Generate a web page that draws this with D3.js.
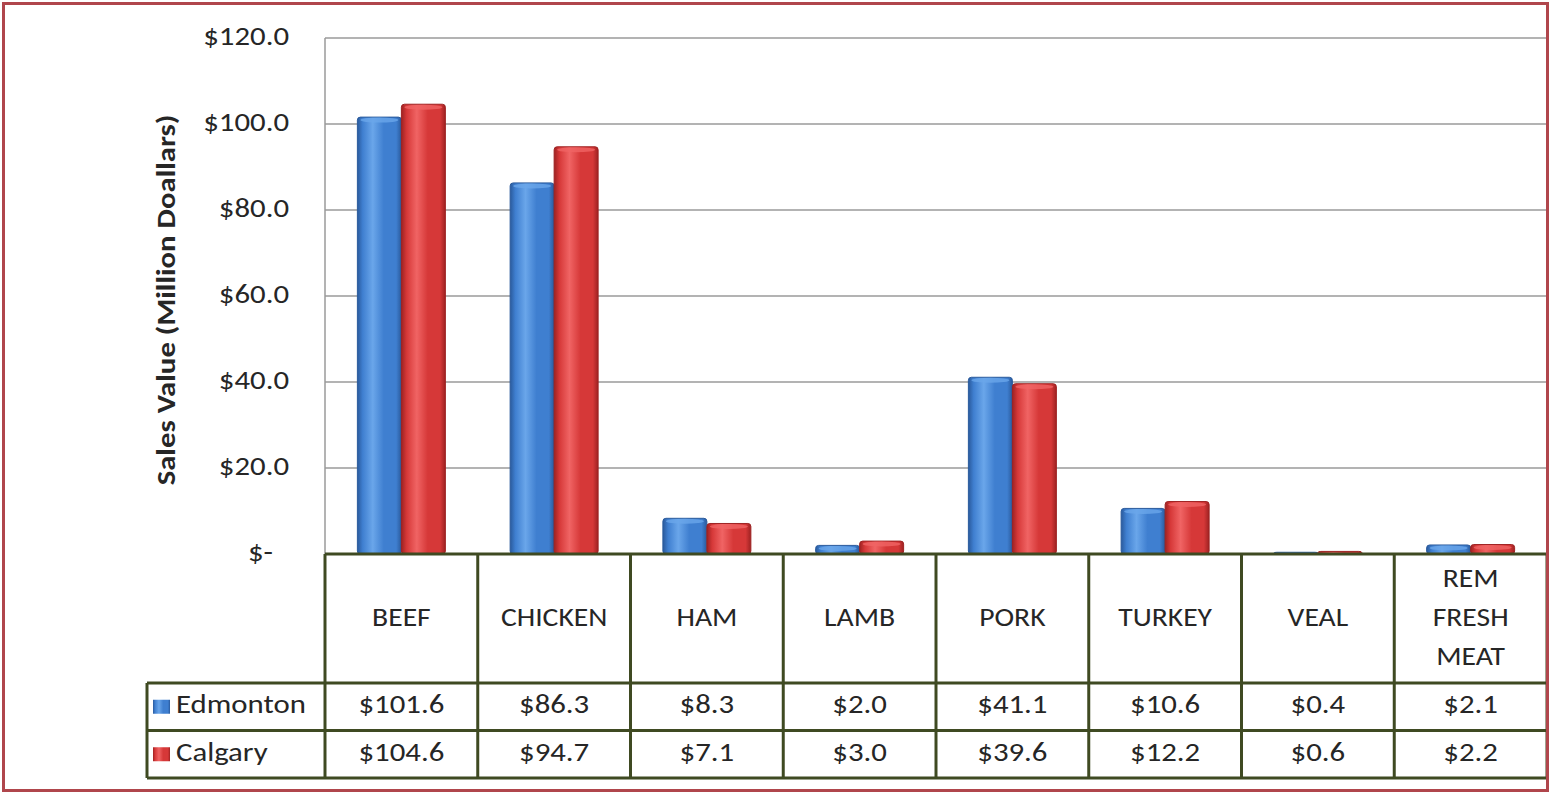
<!DOCTYPE html>
<html>
<head>
<meta charset="utf-8">
<script src="https://cdn.jsdelivr.net/npm/d3@7"></script>
<style>
  html, body { margin: 0; padding: 0; background: #fff; }
  svg { display: block; }
  text { font-family: Carlito, Calibri, Lato, 'Open Sans', sans-serif; fill: #262626; }
</style>
</head>
<body>
<div id="chart"></div>
<script>
const categories = ['BEEF', 'CHICKEN', 'HAM', 'LAMB', 'PORK', 'TURKEY', 'VEAL', 'REM FRESH MEAT'];
const series = ['Edmonton', 'Calgary'];
const edmonton = [101.6, 86.3, 8.3, 2.0, 41.1, 10.6, 0.4, 2.1];
const calgary = [104.6, 94.7, 7.1, 3.0, 39.6, 12.2, 0.6, 2.2];
const yTicks = [0, 20, 40, 60, 80, 100, 120];

const width = 1551;
const height = 794;
const plot = { left: 325, right: 1547, top: 38, bottom: 554 };
const headerBottom = 683;
const rowHeight = 47.5;
const legendLeft = 147;
const lineColor = '#3f4a22';
const fontSize = 27;
const stretch = 1.14; // the source glyphs are wider than Lato's

const values = { Edmonton: edmonton, Calgary: calgary };
const palette = {
  Edmonton: { dark: '#2a5a9c', mid: '#3f7fd0', light: '#6aa6ea' },
  Calgary: { dark: '#9e2222', mid: '#d63838', light: '#f06464' }
};

const svg = d3.select('#chart')
  .append('svg')
  .attr('width', width)
  .attr('height', height);

// gradients to mimic the rounded Excel bars
const defs = svg.append('defs');
series.forEach((s) => {
  const c = palette[s];
  const grad = defs.append('linearGradient')
    .attr('id', `grad-${s}`)
    .attr('x1', 0).attr('x2', 1).attr('y1', 0).attr('y2', 0);
  [[0, c.dark], [0.12, c.mid], [0.35, c.light], [0.6, c.mid], [0.88, c.mid], [1, c.dark]]
    .forEach(([o, col]) => grad.append('stop').attr('offset', o).attr('stop-color', col));
});

// text with a slight horizontal stretch
function label(parent, x, y, str, anchor = 'middle', size = fontSize) {
  return parent.append('text')
    .attr('transform', `translate(${x}, ${y}) scale(${stretch}, 1)`)
    .attr('text-anchor', anchor)
    .attr('dominant-baseline', 'middle')
    .attr('font-size', `${size}px`)
    .text(str);
}

const x = d3.scaleBand()
  .domain(categories)
  .range([plot.left, plot.right]);

const xSub = d3.scaleBand()
  .domain(series)
  .range([0, x.bandwidth()])
  .paddingInner(0)
  .paddingOuter(0.736);

const y = d3.scaleLinear()
  .domain([0, 120])
  .range([plot.bottom, plot.top]);

// gridlines
svg.append('g')
  .attr('class', 'grid')
  .selectAll('line')
  .data(yTicks)
  .join('line')
  .attr('x1', plot.left)
  .attr('x2', plot.right)
  .attr('y1', (d) => y(d))
  .attr('y2', (d) => y(d))
  .attr('stroke', '#9a9a9a')
  .attr('stroke-width', 1.5);

svg.append('line')
  .attr('x1', plot.left).attr('x2', plot.left)
  .attr('y1', plot.top).attr('y2', plot.bottom)
  .attr('stroke', '#9a9a9a')
  .attr('stroke-width', 1.5);

// tick labels
const tickG = svg.append('g');
yTicks.forEach((d) => {
  label(tickG, d === 0 ? 273 : 289, y(d) + 1, d === 0 ? '$-' : `$${d.toFixed(1)}`, 'end');
});

// axis title
svg.append('text')
  .attr('transform', `translate(168, 300) rotate(-90) scale(${stretch}, 1)`)
  .attr('text-anchor', 'middle')
  .attr('dominant-baseline', 'middle')
  .attr('font-size', '27px')
  .attr('font-weight', 'bold')
  .attr('fill', '#1a1a1a')
  .text('Sales Value (Million Doallars)');

// bars
const barG = svg.append('g').attr('class', 'bars');
categories.forEach((cat, i) => {
  series.forEach((s) => {
    const v = values[s][i];
    const bx = x(cat) + xSub(s);
    const bw = xSub.bandwidth();
    const top = y(v);
    const g = barG.append('g');
    g.append('rect')
      .attr('x', bx)
      .attr('y', top)
      .attr('width', bw)
      .attr('height', plot.bottom - top)
      .attr('rx', 3)
      .attr('fill', `url(#grad-${s})`)
      .attr('stroke', palette[s].dark)
      .attr('stroke-width', 1);
    // lighter cap on top
    if (plot.bottom - top > 6) {
      g.append('ellipse')
        .attr('cx', bx + bw / 2)
        .attr('cy', top + 3)
        .attr('rx', bw / 2 - 3)
        .attr('ry', 2.5)
        .attr('fill', palette[s].light)
        .attr('opacity', 0.8);
    }
  });
});

// data table
const table = svg.append('g').attr('class', 'table');
const rowY = (k) => headerBottom + k * rowHeight;
const tableBottom = rowY(series.length);

// header row
categories.forEach((cat) => {
  const words = cat.split(' ');
  const cx = x(cat) + x.bandwidth() / 2;
  const cy = (plot.bottom + headerBottom) / 2 + 1;
  const lh = 39;
  words.forEach((w, j) => {
    label(table, cx, cy + (j - (words.length - 1) / 2) * lh, w, 'middle', 26);
  });
});

// series rows
series.forEach((s, k) => {
  const cy = rowY(k) + rowHeight / 2;
  table.append('rect')
    .attr('x', legendLeft + 6)
    .attr('y', cy - 7)
    .attr('width', 17)
    .attr('height', 14)
    .attr('fill', `url(#grad-${s})`);
  label(table, legendLeft + 29, cy, s, 'start');
  categories.forEach((cat, i) => {
    label(table, x(cat) + x.bandwidth() / 2, cy, `$${values[s][i].toFixed(1)}`);
  });
});

// table lines
const hLines = [
  [plot.left, plot.right, plot.bottom],
  [legendLeft, plot.right, headerBottom],
  [legendLeft, plot.right, rowY(1)],
  [legendLeft, plot.right, tableBottom]
];
table.selectAll('.hline')
  .data(hLines)
  .join('line')
  .attr('class', 'hline')
  .attr('x1', (d) => d[0]).attr('x2', (d) => d[1])
  .attr('y1', (d) => d[2]).attr('y2', (d) => d[2])
  .attr('stroke', lineColor)
  .attr('stroke-width', 3);

const vCols = categories.map((c) => x(c)).concat([plot.right]);
table.selectAll('.vline')
  .data(vCols)
  .join('line')
  .attr('class', 'vline')
  .attr('x1', (d) => d).attr('x2', (d) => d)
  .attr('y1', plot.bottom).attr('y2', tableBottom)
  .attr('stroke', lineColor)
  .attr('stroke-width', 3);

table.append('line')
  .attr('x1', legendLeft).attr('x2', legendLeft)
  .attr('y1', headerBottom).attr('y2', tableBottom)
  .attr('stroke', lineColor)
  .attr('stroke-width', 3);

// outer border
svg.append('rect')
  .attr('x', 3.5).attr('y', 3.5)
  .attr('width', width - 7).attr('height', height - 7)
  .attr('fill', 'none')
  .attr('stroke', '#b0464c')
  .attr('stroke-width', 3);
</script>
</body>
</html>
